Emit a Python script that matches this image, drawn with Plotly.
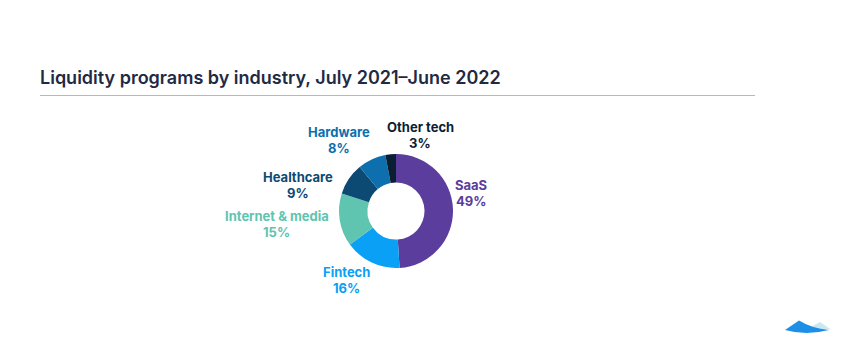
import plotly.graph_objects as go

categories = ["SaaS", "Fintech", "Internet & media", "Healthcare", "Hardware", "Other tech"]
values = [49, 16, 15, 9, 8, 3]
colors = ["#5a3d9c", "#0aa0f5", "#5fc4b0", "#0c4a73", "#0d6fad", "#0b1e33"]

W, H = 850, 352
cx, cy, R = 396, 211, 57
LINE_GAP = 15.5

# label block centres relative to the donut centre (layout/style, in px)
label_offsets = [(75, -18), (-49.5, 69), (-119.5, 13), (-98, -26), (-57, -71), (24, -76)]


def px(x, y):
    return x / W, 1 - y / H


fig = go.Figure()
fig.add_trace(go.Pie(
    labels=categories, values=values, hole=0.5, sort=False,
    direction="clockwise", rotation=0,
    marker=dict(colors=colors, line=dict(width=0)),
    textinfo="none",
    showlegend=False, hoverinfo="label+value",
    domain=dict(x=[(cx - R) / W, (cx + R) / W], y=[(H - cy - R) / H, (H - cy + R) / H]),
))

for cat, val, col, (dx, dy) in zip(categories, values, colors, label_offsets):
    for txt, shift in ((cat, -LINE_GAP / 2), ("%d%%" % val, LINE_GAP / 2)):
        x, y = px(cx + dx, cy + dy + shift)
        fig.add_annotation(
            text=txt, xref="paper", yref="paper", x=x, y=y,
            xanchor="center", yanchor="middle", align="center", showarrow=False,
            font=dict(family="Inter", size=13, color=col, weight=700),
        )

tx, ty = px(38, 77)
fig.add_annotation(
    text="Liquidity programs by industry, July 2021–June 2022",
    xref="paper", yref="paper", x=tx, y=ty, xanchor="left", yanchor="middle",
    showarrow=False, font=dict(family="Inter", size=18, color="#1f2a44", weight=600),
)
fig.add_shape(type="line", xref="paper", yref="paper",
              x0=40 / W, x1=755 / W, y0=1 - 95.5 / H, y1=1 - 95.5 / H,
              line=dict(color="#b5b9c0", width=1))


def path(pts):
    out = []
    for p in pts:
        if p[0] == "M" or p[0] == "L":
            x, y = px(p[1], p[2])
            out.append("%s %f %f" % (p[0], x, y))
        elif p[0] == "Q":
            x1, y1 = px(p[1], p[2])
            x2, y2 = px(p[3], p[4])
            out.append("Q %f %f %f %f" % (x1, y1, x2, y2))
    return " ".join(out) + " Z"


# small logo mark
fig.add_shape(type="path", xref="paper", yref="paper",
              path=path([("M", 809, 328), ("L", 820, 322), ("L", 831, 329.5)]),
              fillcolor="#c9e8f4", line=dict(width=0))
fig.add_shape(type="path", xref="paper", yref="paper",
              path=path([("M", 785, 330), ("L", 799, 320.5), ("Q", 812, 328.5, 829, 330),
                         ("Q", 806, 336, 785, 330)]),
              fillcolor="#1e8fe6", line=dict(width=0))

fig.update_layout(
    width=W, height=H, margin=dict(l=0, r=0, t=0, b=0),
    paper_bgcolor="white", plot_bgcolor="white",
    font=dict(family="Inter"),
)
fig.write_html("out.html")
